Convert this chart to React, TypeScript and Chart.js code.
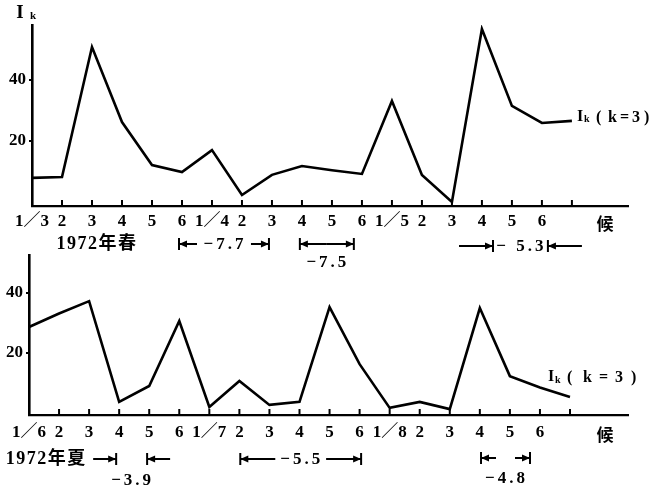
import React, { useEffect, useRef } from "react";
import { Chart, registerables } from "chart.js";
Chart.register(...registerables);

// ---- data ----
const topCategories = ["1／3", "2", "3", "4", "5", "6", "1／4", "2", "3", "4", "5", "6", "1／5", "2", "3", "4", "5", "6", ""];
const topValues = [7.9, 8.2, 50.8, 26.2, 12.1, 9.8, 17, 2.3, 8.9, 11.8, 10.4, 9.2, 33.1, 8.9, 0, 56.7, 31.5, 25.9, 26.6];
const bottomCategories = ["1／6", "2", "3", "4", "5", "6", "1／7", "2", "3", "4", "5", "6", "1／8", "2", "3", "4", "5", "6", ""];
const bottomValues = [28.7, 33.2, 37.3, 3.7, 9, 30.7, 2, 10.7, 2.7, 3.7, 35.3, 16.3, 1.7, 3.7, 1.3, 35, 12.3, 8.5, 5.3];
const yTickValues = [20, 40];
const seriesLabelParts = ["(", "k", "=", "3", ")"];
const unitLabel = "候";
const topSeason = "1972年春";
const bottomSeason = "1972年夏";

// annotations (bracket ranges in category units)
const topBrackets = [
  { from: 4.9, to: 7.9, mode: "out", arm: 18, label: "−7.7", dy: 38, ldy: 38 },
  { from: 8.93, to: 10.73, mode: "out", arm: 27, label: "−7.5", dy: 38, ldy: 56 },
  { from: 15.37, to: 17.2, mode: "in", arm: 34, label: "− 5.3", dy: 40, ldy: 40 },
];
const bottomBrackets = [
  { from: 2.9, to: 3.93, mode: "in", arm: 23, label: "−3.9", dy: 44, ldy: 65 },
  { from: 7.03, to: 11.05, mode: "out", arm: 35, label: "−5.5", dy: 44, ldy: 44 },
  { from: 15.04, to: 16.67, mode: "out", arm: 15, label: "−4.8", dy: 43, ldy: 63 },
];

const SERIF = "'Liberation Serif', 'DejaVu Serif', 'Noto Sans CJK SC', serif";

function drawBracket(ctx: CanvasRenderingContext2D, xs: any, bottom: number, b: any) {
  const xl = xs.getPixelForValue(b.from);
  const xr = xs.getPixelForValue(b.to);
  const y = bottom + b.dy;
  ctx.save();
  ctx.strokeStyle = "#000";
  ctx.fillStyle = "#000";
  ctx.lineWidth = 2;
  for (const x of [xl, xr]) {
    ctx.beginPath();
    ctx.moveTo(x, y - 6);
    ctx.lineTo(x, y + 6);
    ctx.stroke();
  }
  const arrow = (tip: number, dir: number, start: number) => {
    ctx.beginPath();
    ctx.moveTo(start, y);
    ctx.lineTo(tip, y);
    ctx.stroke();
    ctx.beginPath();
    ctx.moveTo(tip, y);
    ctx.lineTo(tip - dir * 8, y - 3.5);
    ctx.lineTo(tip - dir * 8, y + 3.5);
    ctx.closePath();
    ctx.fill();
  };
  if (b.mode === "out") {
    arrow(xl, -1, xl + b.arm);
    arrow(xr, 1, xr - b.arm);
  } else {
    arrow(xl, 1, xl - b.arm);
    arrow(xr, -1, xr + b.arm);
  }
  ctx.font = "bold 17px " + SERIF;
  (ctx as any).letterSpacing = "3px";
  ctx.textAlign = "center";
  ctx.textBaseline = "middle";
  ctx.fillText(b.label, (xl + xr) / 2 + 1, bottom + b.ldy + 1);
  ctx.restore();
}

function makeConfig(p: any) {
  const annot = {
    id: "annot",
    afterDraw(chart: any) {
      const ctx = chart.ctx as CanvasRenderingContext2D;
      const xs = chart.scales.x;
      const ys = chart.scales.y;
      const { bottom, left, right, top } = chart.chartArea;
      ctx.save();
      // inner tick marks
      ctx.strokeStyle = "#000";
      ctx.lineWidth = 2;
      for (let i = 1; i < p.categories.length; i++) {
        const x = xs.getPixelForValue(i);
        ctx.beginPath();
        ctx.moveTo(x, bottom);
        ctx.lineTo(x, bottom - 6);
        ctx.stroke();
      }
      ctx.fillStyle = "#000";
      // unit label
      ctx.font = "bold 17px 'Noto Sans CJK SC'";
      ctx.textAlign = "center";
      ctx.textBaseline = "middle";
      ctx.fillText(unitLabel, right - 23, bottom + p.unitDy);
      // season label
      ctx.font = "bold 18px " + SERIF;
      (ctx as any).letterSpacing = "1.5px";
      ctx.textAlign = "center";
      ctx.fillText(p.season, xs.getPixelForValue(p.seasonX), bottom + p.seasonDy);
      (ctx as any).letterSpacing = "0px";
      // series label
      const lx = xs.getPixelForValue(p.labelPos[0]);
      const ly = ys.getPixelForValue(p.labelPos[1]);
      ctx.textAlign = "left";
      ctx.font = "bold 16px " + SERIF;
      ctx.fillText("I", lx, ly);
      ctx.font = "bold 10px " + SERIF;
      ctx.fillText("k", lx + 7, ly + 3);
      ctx.font = "bold 16px " + SERIF;
      seriesLabelParts.forEach((s, j) => {
        ctx.fillText(s, lx + 19 + j * p.labelStep, ly + 1);
      });
      // axis title
      if (p.axisTitle) {
        ctx.font = "bold 19px " + SERIF;
        ctx.textAlign = "center";
        ctx.fillText("I", left - 12, top - 12);
        ctx.font = "bold 11px " + SERIF;
        ctx.fillText("k", left + 1, top - 9);
      }
      ctx.restore();
      for (const b of p.brackets) drawBracket(ctx, xs, bottom, b);
    },
  };
  return {
    type: "line",
    data: {
      datasets: [
        {
          data: p.values.map((v: number, i: number) => ({ x: i, y: v })),
          borderColor: "#000",
          borderWidth: 2.6,
          pointRadius: 0,
          tension: 0,
          fill: false,
        },
      ],
    },
    options: {
      animation: false,
      responsive: false,
      maintainAspectRatio: false,
      layout: { padding: p.padding },
      plugins: { legend: { display: false }, tooltip: { enabled: false } },
      scales: {
        x: {
          type: "linear",
          min: 0,
          max: p.xMax,
          afterFit: (s: any) => { s.height = 34; },
          afterBuildTicks: (s: any) => { s.ticks = p.categories.map((_: string, i: number) => ({ value: i })); },
          grid: { drawOnChartArea: false, drawTicks: false },
          border: { color: "#000", width: 2.2 },
          ticks: {
            autoSkip: false,
            maxRotation: 0,
            padding: p.xPad,
            color: "#000",
            font: { family: SERIF, size: 17, weight: "bold" },
            callback: (v: number) => p.categories[v] ?? "",
          },
        },
        y: {
          min: p.yMin,
          max: p.yMax,
          afterFit: (s: any) => { s.width = p.yWidth; },
          afterBuildTicks: (s: any) => { s.ticks = yTickValues.map((v) => ({ value: v })); },
          grid: { drawOnChartArea: false, tickLength: 3, color: "#000", lineWidth: 2 },
          border: { color: "#000", width: 2.6 },
          ticks: {
            padding: 3,
            color: "#000",
            font: { family: SERIF, size: 17, weight: "bold" },
          },
        },
      },
    },
    plugins: [annot],
  } as any;
}

function Panel({ p }: { p: any }) {
  const ref = useRef<HTMLCanvasElement>(null);
  useEffect(() => {
    const chart = new Chart(ref.current as HTMLCanvasElement, makeConfig(p));
    return () => chart.destroy();
  }, []);
  return (
    <canvas
      ref={ref}
      width={655}
      height={488}
      style={{ position: "absolute", left: 0, top: 0, width: 655, height: 488 }}
    />
  );
}

const topPanel = {
  categories: topCategories,
  values: topValues,
  xMax: 19.87,
  yMin: -1.3,
  yMax: 58,
  yWidth: 32,
  xPad: 5,
  padding: { left: 0, right: 27, top: 25, bottom: 248 },
  brackets: topBrackets,
  season: topSeason,
  seasonX: 2.17,
  seasonDy: 38,
  unitDy: 18,
  labelPos: [18.17, 27.9],
  labelStep: 12,
  axisTitle: true,
};

const bottomPanel = {
  categories: bottomCategories,
  values: bottomValues,
  xMax: 19.93,
  yMin: -0.67,
  yMax: 52.7,
  yWidth: 29,
  xPad: 7,
  padding: { left: 0, right: 27, top: 255, bottom: 39 },
  brackets: bottomBrackets,
  season: bottomSeason,
  seasonX: 0.57,
  seasonDy: 44,
  unitDy: 20,
  labelPos: [17.27, 12],
  labelStep: 16,
  axisTitle: false,
};

export default function App() {
  return (
    <div style={{ position: "fixed", left: 0, top: 0, width: 655, height: 488, background: "#fff" }}>
      <Panel p={topPanel} />
      <Panel p={bottomPanel} />
    </div>
  );
}
